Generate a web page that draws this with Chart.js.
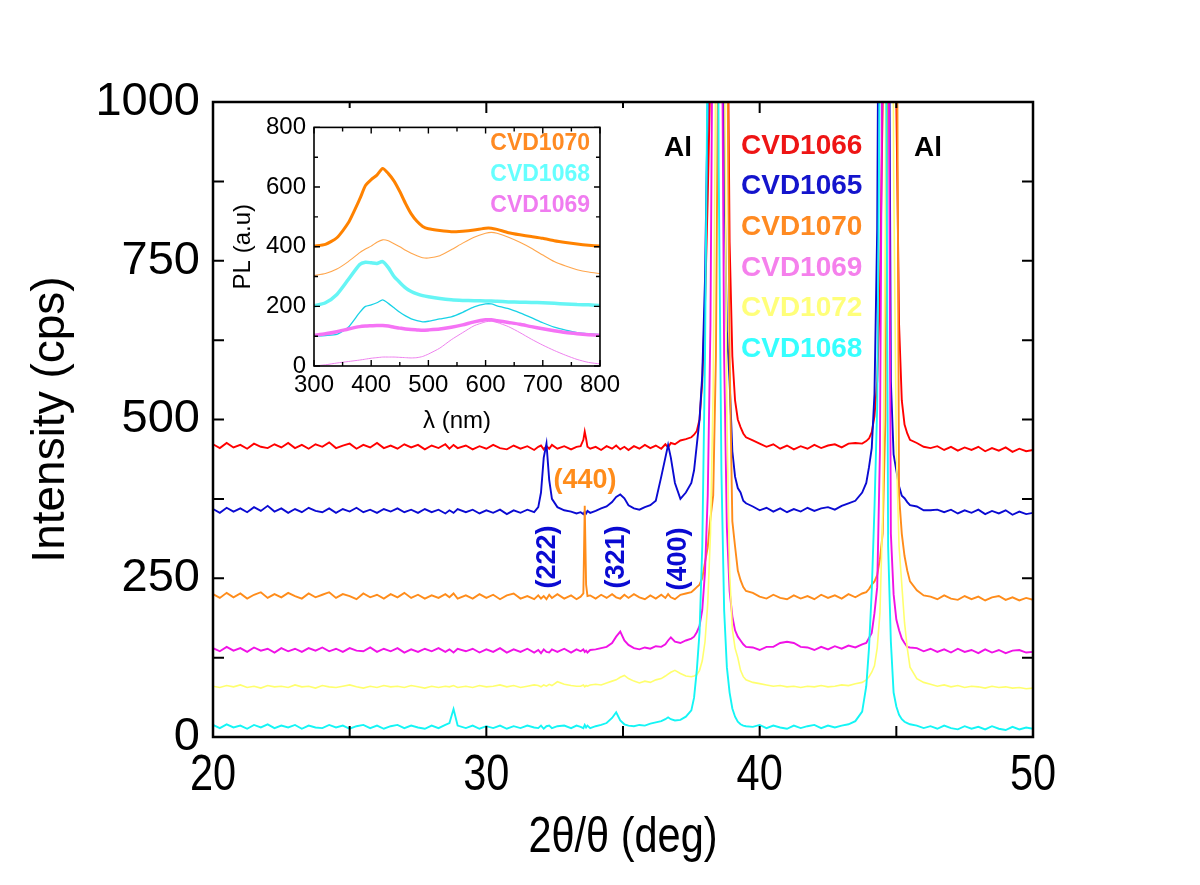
<!DOCTYPE html>
<html>
<head>
<meta charset="utf-8">
<script src="https://cdn.jsdelivr.net/npm/chart.js@4.4.1/dist/chart.umd.min.js"></script>
<style>
  body { margin: 0; background: #fff; }
  #wrap { position: relative; width: 1200px; height: 885px; }
  #xrd { position: absolute; left: 0; top: 0; }
  #pl { position: absolute; left: 225px; top: 105px; }
</style>
</head>
<body>
<div id="wrap">
  <canvas id="xrd" width="1200" height="885"></canvas>
  <canvas id="pl" width="400" height="335"></canvas>
</div>
<script>
// ---------------- XRD scans (2theta in deg, intensity in cps, offset as plotted) ----------------
const twoTheta = [
  20, 20.25, 20.5, 20.75, 21, 21.25, 21.5, 21.75, 22, 22.25, 22.5, 22.75, 23, 23.25, 23.5, 23.75, 24, 24.25,
  24.5, 24.75, 25, 25.25, 25.5, 25.75, 26, 26.25, 26.5, 26.75, 27, 27.25, 27.5, 27.75, 28, 28.25, 28.5,
  28.65, 28.8, 28.95,
  29.25, 29.5, 29.75, 30, 30.25, 30.5, 30.75, 31, 31.25, 31.5, 31.75,
  31.9, 32, 32.1, 32.2, 32.3, 32.4,
  32.6, 32.85, 33.1, 33.3,
  33.45, 33.55, 33.6, 33.65, 33.7, 33.8,
  34, 34.2, 34.4, 34.6, 34.75, 34.9, 35.05, 35.2, 35.4, 35.6, 35.8, 36, 36.2, 36.4, 36.55, 36.65, 36.75, 36.9, 37.1, 37.3,
  37.5, 37.6, 37.7, 37.8, 37.9, 38, 38.1, 38.2, 38.3, 38.4, 38.5, 38.6, 38.7, 38.8, 38.9, 39, 39.1, 39.2, 39.3, 39.4, 39.5,
  39.75, 40, 40.25, 40.5, 40.75, 41, 41.25, 41.5, 41.75, 42, 42.25, 42.5, 42.75, 43, 43.25, 43.5, 43.75,
  43.9, 44, 44.1, 44.2, 44.3, 44.4, 44.5, 44.6, 44.7, 44.8, 44.9, 45, 45.1, 45.2, 45.3, 45.4, 45.5,
  45.75, 46, 46.25, 46.5, 46.75, 47, 47.25, 47.5, 47.75, 48, 48.25, 48.5, 48.75, 49, 49.25, 49.5, 49.75, 50
];

const cvd1066 = [
  461, 455, 463, 456, 460, 454, 462, 457, 455, 461, 456, 463, 455, 460, 454, 461, 457, 464,
  455, 459, 462, 454, 460, 456, 463, 455, 459, 454, 461, 456, 460, 453, 459, 455, 461,
  454, 460, 455,
  459, 453, 458, 454, 460, 455, 453, 459, 454, 458, 452,
  457, 459, 453, 458, 454, 460,
  454, 458, 453, 457,
  458, 468, 481, 470, 457, 454,
  457, 452, 458, 454, 459, 453, 457, 452, 458, 454, 460, 455, 459, 454, 461, 456, 463, 461, 467, 469,
  472, 476, 482, 500, 560, 680, 850, 1050, 1400, 2800, 3500, 3500, 2600, 1300, 780, 600, 530, 500, 488, 478, 472,
  467, 462, 457, 461, 454, 459, 453, 458, 454, 460, 455, 459, 461, 456, 462, 463, 462,
  466, 470, 480, 505, 560, 700, 1000, 1800, 3500, 3500, 2200, 1000, 650, 530, 492, 478, 468,
  463, 457, 455, 458, 452, 457, 451, 456, 452, 457, 450, 455, 451, 456, 449, 454, 450, 452
];

const cvd1065 = [
  359, 353, 361, 355, 360, 354, 362, 356, 364, 355, 360, 353, 359, 354, 361, 356, 354, 360,
  353, 359, 355, 361, 354, 358, 353, 359, 355, 360, 354, 358, 353, 359, 354, 358, 352,
  357, 353, 359,
  354, 358, 352, 357, 353, 358, 351, 357, 353, 358, 354,
  362, 385, 440, 462, 405, 375,
  362, 357, 355, 352,
  354, 351, 355, 352, 356, 353,
  356, 360, 363, 370, 378, 382, 376, 365, 360, 358, 362, 365, 372, 410, 440, 460, 440, 400, 375, 385,
  400, 420, 460, 500, 570, 720, 1000, 1800, 3000, 3500, 3000, 1600, 900, 640, 560, 450, 410, 392, 385, 372, 368,
  363, 357, 361, 355, 360, 354, 359, 355, 361, 356, 360, 362, 358, 364, 368, 372, 385,
  400, 425, 455, 540, 800, 1600, 3500, 3200, 1500, 560, 445, 420, 395, 380, 376, 370, 365,
  363, 357, 357, 358, 354, 358, 352, 357, 353, 358, 351, 356, 352, 357, 350, 355, 351, 353
];

const cvd1070 = [
  225, 219, 227, 220, 226, 218, 224, 228, 219, 225, 220, 227, 222, 218, 226, 220, 224, 228,
  219, 225, 222, 217, 226, 220, 224, 218, 225, 220, 227, 219, 224, 218, 223, 219, 225,
  220, 226, 218,
  223, 218, 225, 219, 224, 217, 223, 226, 218, 222, 217,
  223, 218, 222, 217, 224, 219,
  225, 218, 223, 217,
  221, 226, 364, 240, 222, 223,
  218, 224, 219, 225, 220, 218, 224, 219, 225, 220, 217, 223, 218, 224, 219, 225, 220, 217, 224, 226,
  228, 232, 236, 240, 250, 275, 299, 345, 380, 600, 1200, 3000, 3000, 1200, 600, 340, 300, 262, 247, 236, 230,
  227, 221, 218, 224, 219, 217, 223, 218, 222, 217, 224, 219, 223, 218, 225, 220, 226,
  228, 233, 240, 245, 255, 280, 320, 500, 1200, 3000, 3000, 1400, 380, 320, 285, 262, 245,
  231, 223, 221, 217, 223, 218, 216, 222, 217, 221, 215, 220, 222, 216, 220, 215, 219, 216
];

const cvd1069 = [
  140, 135, 142, 136, 140, 134, 141, 136, 139, 133, 140, 135, 139, 134, 140, 136, 141, 135,
  139, 134, 140, 136, 135, 141, 134, 139, 135, 140, 133, 138, 134, 139, 135, 140, 134,
  138, 133, 139,
  135, 139, 133, 138, 134, 140, 133, 138, 134, 139, 133,
  137, 132, 138, 134, 133, 138,
  134, 139, 133, 138,
  135, 138, 134, 136, 133, 137,
  138, 140, 142, 148, 158, 166, 152, 145, 140, 138, 141, 139, 143, 142, 146, 152, 157, 150, 148, 152,
  155, 158, 165, 175, 200, 260, 380, 650, 1300, 3000, 3000, 1300, 600, 330, 230, 190, 168, 158, 152, 146, 142,
  141, 137, 142, 142, 148, 150, 148, 142, 141, 137, 142, 138, 143, 139, 144, 141, 146,
  148, 156, 164, 195, 236, 450, 1200, 3000, 1300, 320, 225, 185, 168, 155, 148, 142, 141,
  140, 135, 139, 134, 138, 133, 139, 134, 137, 132, 138, 133, 137, 132, 136, 137, 133, 134
];

const cvd1072 = [
  80, 78, 81, 79, 82, 78, 80, 77, 81, 79, 80, 78, 82, 79, 80, 77, 81, 79,
  78, 80, 82, 79, 77, 80, 78, 81, 79, 80, 78, 81, 79, 77, 80, 78, 80,
  79, 81, 78,
  80, 78, 81, 79, 80, 82, 79, 81, 78, 80, 82,
  81, 79, 82, 80, 83, 81,
  87, 83, 81, 80,
  80, 82, 79, 81, 80, 82,
  83, 82, 85, 88, 90, 94, 97, 92, 88, 85, 88, 86, 90, 92, 96, 99, 102, 105, 100, 96,
  95, 96, 98, 105, 120, 150, 210, 320, 550, 1100, 3000, 3000, 1200, 500, 260, 170, 140, 125, 105, 95, 90,
  86, 84, 82, 80, 81, 79, 80, 78, 80, 79, 81, 79, 80, 82, 81, 84, 86,
  90, 95, 102, 112, 140, 195, 350, 800, 2500, 2500, 900, 450, 300, 240, 180, 140, 110,
  92, 86, 83, 80, 82, 79, 81, 78, 80, 79, 77, 80, 78, 79, 77, 78, 76, 77
];

const cvd1068 = [
  19, 14, 20, 15, 18, 13, 19, 15, 20, 14, 18, 15, 19, 13, 18, 15, 14, 19,
  15, 18, 13, 17, 19, 14, 18, 13, 17, 19, 14, 18, 15, 13, 18, 14, 19,
  22, 44, 18,
  14, 18, 13, 17, 14, 18, 13, 17, 14, 18, 15,
  14, 18, 13, 17, 18, 14,
  17, 18, 14, 18,
  16, 14, 19, 15, 18, 14,
  17, 19, 22, 30, 39, 26, 20, 18, 17, 19, 18, 21, 23, 25, 28, 31, 28, 26, 27, 32,
  42, 62, 105, 165, 300, 600, 1100, 2500, 3500, 2200, 900, 420, 200, 110, 70, 45, 32, 24, 20, 18, 17,
  16, 19, 14, 18, 15, 13, 18, 14, 17, 19, 14, 18, 15, 18, 20, 25, 40,
  80, 140, 230, 360, 520, 1100, 3000, 1400, 300, 150, 70, 48, 35, 28, 24, 22, 20,
  18, 14, 17, 13, 18, 14, 12, 17, 13, 16, 12, 17, 13, 11, 16, 12, 15, 13
];

const xrdNames = ['CVD1066', 'CVD1065', 'CVD1070', 'CVD1069', 'CVD1072', 'CVD1068'];
const xTickMinor = [25, 35, 45];
const yTickMinor = [125, 375, 625, 875];

// ---------------- PL inset (wavelength in nm, PL in a.u.) ----------------
const wavelength = [300, 320, 340, 360, 380, 390, 400, 410, 420, 430, 440, 450, 460, 470, 480, 490, 500,
  520, 540, 560, 580, 600, 610, 620, 640, 660, 680, 700, 720, 740, 760, 780, 800];
const pl1070a = [402, 408, 430, 480, 560, 605, 625, 640, 662, 645, 620, 585, 545, 510, 485, 468, 460,
  454, 450, 452, 456, 462, 462, 458, 447, 440, 434, 428, 420, 414, 409, 405, 402];
const pl1070b = [303, 310, 325, 350, 380, 392, 402, 415, 423, 420, 410, 400, 388, 378, 370, 363, 362,
  370, 390, 412, 432, 445, 448, 445, 432, 415, 395, 372, 350, 335, 323, 315, 310];
const pl1068a = [201, 212, 240, 290, 340, 348, 346, 344, 350, 330, 300, 280, 262, 250, 242, 236, 232,
  226, 222, 220, 219, 218, 218, 217, 215, 214, 213, 212, 210, 208, 206, 205, 203];
const pl1068b = [100, 102, 106, 130, 180, 200, 205, 212, 222, 210, 195, 180, 168, 158, 152, 148, 150,
  158, 165, 180, 198, 208, 208, 202, 192, 178, 162, 145, 130, 120, 112, 108, 105];
const pl1069a = [103, 108, 115, 124, 132, 134, 135, 136, 136, 134, 130, 127, 124, 122, 121, 120, 121,
  124, 130, 138, 148, 155, 155, 152, 146, 140, 132, 125, 118, 112, 108, 105, 103];
const pl1069b = [0, 4, 10, 15, 20, 23, 26, 28, 30, 30, 30, 29, 28, 27, 28, 32, 40,
  60, 88, 112, 135, 148, 150, 146, 132, 112, 90, 70, 52, 36, 22, 12, 7];
const plNames = ['CVD1070', 'CVD1068', 'CVD1069'];
const plXMinor = [350, 450, 550, 650, 750];
const plYMinor = [100, 300, 500, 700];

// ---------------- styles ----------------
const SANS = "'Liberation Sans', Arial, sans-serif";
const NARROW_SCALE = 0.83; // the original uses a narrow face for the x axis texts
const lineColors = {
  CVD1066: '#ff0000', CVD1065: '#0a0ad2', CVD1070: '#ff8c1a',
  CVD1069: '#f012e6', CVD1072: '#ffff6e', CVD1068: '#14f5f5'
};
const labelColors = {
  CVD1066: '#ee1515', CVD1065: '#1414cc', CVD1070: '#ff8a22',
  CVD1069: '#f580ec', CVD1072: '#ffff7a', CVD1068: '#36ffff'
};

const toPoints = (xs, ys) => xs.map((x, i) => ({ x: x, y: ys[i] }));

const xrdValues = { CVD1066: cvd1066, CVD1065: cvd1065, CVD1070: cvd1070, CVD1069: cvd1069, CVD1072: cvd1072, CVD1068: cvd1068 };
// first dataset is drawn on top
const drawOrder = ['CVD1068', 'CVD1072', 'CVD1069', 'CVD1070', 'CVD1065', 'CVD1066'];

function drawTicks(ctx, a, xs, ys, xMajor, xMinor, yMajor, yMinor, lenMajor, lenMinor, topMinor) {
  ctx.beginPath();
  xMajor.concat(xMinor).forEach(v => {
    const px = xs.getPixelForValue(v);
    const isMajor = xMajor.includes(v);
    const len = isMajor ? lenMajor : lenMinor;
    ctx.moveTo(px, a.bottom); ctx.lineTo(px, a.bottom - len);
    ctx.moveTo(px, a.top); ctx.lineTo(px, a.top + (isMajor ? lenMajor : topMinor));
  });
  yMajor.concat(yMinor).forEach(v => {
    const py = ys.getPixelForValue(v);
    const len = yMajor.includes(v) ? lenMajor : lenMinor;
    ctx.moveTo(a.left, py); ctx.lineTo(a.left + len, py);
    ctx.moveTo(a.right, py); ctx.lineTo(a.right - len, py);
  });
  ctx.stroke();
}

function narrowText(ctx, text, cx, cy) {
  ctx.save();
  ctx.translate(cx, cy);
  ctx.scale(NARROW_SCALE, 1);
  ctx.fillText(text, 0, 0);
  ctx.restore();
}

const xrdDecor = {
  id: 'xrdDecor',
  afterDraw(chart) {
    const { ctx, chartArea: a, scales: { x, y } } = chart;
    ctx.save();
    ctx.strokeStyle = '#000';
    ctx.lineWidth = 2.5;
    ctx.strokeRect(a.left, a.top, a.right - a.left, a.bottom - a.top);
    ctx.lineWidth = 2;
    drawTicks(ctx, a, x, y, x.ticks.map(t => t.value), xTickMinor, y.ticks.map(t => t.value), yTickMinor, 11, 11, 6);

    // x axis labels and title in a narrow face
    ctx.fillStyle = '#000';
    ctx.textAlign = 'center';
    ctx.textBaseline = 'middle';
    ctx.font = '50px ' + SANS;
    x.ticks.forEach(t => narrowText(ctx, String(t.value), x.getPixelForValue(t.value), a.bottom + 39));
    narrowText(ctx, '2θ/θ (deg)', (a.left + a.right) / 2, 838);

    // Al labels
    ctx.font = 'bold 28px ' + SANS;
    ctx.fillText('Al', 678, 148);
    ctx.fillText('Al', 928, 148);

    // sample legend
    ctx.textAlign = 'left';
    xrdNames.forEach((n, i) => {
      ctx.fillStyle = labelColors[n];
      ctx.fillText(n, 741, 146 + i * 40.6);
    });

    // reflections
    ctx.font = 'bold 27px ' + SANS;
    ctx.textAlign = 'center';
    ctx.fillStyle = lineColors.CVD1070;
    ctx.fillText('(440)', 585, 481);
    ctx.fillStyle = '#0a0ad2';
    [['(222)', 548, 557], ['(321)', 617, 557], ['(400)', 679, 559]].forEach(([t, cx, cy]) => {
      ctx.save();
      ctx.translate(cx, cy);
      ctx.rotate(-Math.PI / 2);
      ctx.fillText(t, 0, 0);
      ctx.restore();
    });
    ctx.restore();
  }
};

new Chart(document.getElementById('xrd'), {
  type: 'line',
  data: {
    datasets: drawOrder.map(n => ({
      label: n,
      data: toPoints(twoTheta, xrdValues[n]),
      borderColor: lineColors[n],
      borderWidth: n === 'CVD1072' ? 1.6 : 1.9,
      pointRadius: 0,
      tension: 0,
      fill: false
    }))
  },
  options: {
    responsive: false,
    animation: false,
    devicePixelRatio: 1,
    layout: { padding: { left: 0, top: 102, right: 167, bottom: 0 } },
    plugins: { legend: { display: false }, tooltip: { enabled: false } },
    scales: {
      x: {
        type: 'linear', min: 20, max: 50,
        ticks: { display: false, stepSize: 10 },
        grid: { display: false, drawTicks: false },
        border: { display: false },
        afterFit: s => { s.height = 148; }
      },
      y: {
        type: 'linear', min: 0, max: 1000,
        ticks: { stepSize: 250, padding: 13, color: '#000', font: { family: SANS, size: 47 }, callback: v => String(v) },
        grid: { display: false, drawTicks: false },
        border: { display: false },
        title: { display: true, text: 'Intensity (cps)', color: '#000', font: { family: SANS, size: 46 }, padding: { top: 24, bottom: 0 } },
        afterFit: s => { s.width = 213; }
      }
    }
  },
  plugins: [xrdDecor]
});

// ---------------- inset ----------------
const plDecor = {
  id: 'plDecor',
  afterDraw(chart) {
    const { ctx, chartArea: a, scales: { x, y } } = chart;
    ctx.save();
    ctx.strokeStyle = '#000';
    ctx.lineWidth = 1.6;
    ctx.strokeRect(a.left, a.top, a.right - a.left, a.bottom - a.top);
    ctx.lineWidth = 1.4;
    drawTicks(ctx, a, x, y, x.ticks.map(t => t.value), plXMinor, y.ticks.map(t => t.value), plYMinor, 6, 4, 4);
    ctx.font = 'bold 23px ' + SANS;
    ctx.textAlign = 'right';
    ctx.textBaseline = 'middle';
    const cols = ['#ff8a22', '#66ffff', '#f07cf0'];
    plNames.forEach((n, i) => {
      ctx.fillStyle = cols[i];
      ctx.fillText(n, 365, 39 + i * 31);
    });
    ctx.restore();
  }
};

const plSeries = [
  { d: pl1070a, c: '#ff8200', w: 3 },
  { d: pl1068a, c: '#66f5f5', w: 3.5 },
  { d: pl1069a, c: '#f573f5', w: 3.5 },
  { d: pl1070b, c: '#ffa64d', w: 1.1 },
  { d: pl1068b, c: '#18d2e6', w: 1.3 },
  { d: pl1069b, c: '#ee82ee', w: 1 }
];

new Chart(document.getElementById('pl'), {
  type: 'line',
  data: {
    datasets: plSeries.map(s => ({
      data: toPoints(wavelength, s.d),
      borderColor: s.c,
      borderWidth: s.w,
      pointRadius: 0,
      tension: 0.2,
      fill: false
    }))
  },
  options: {
    responsive: false,
    animation: false,
    devicePixelRatio: 1,
    layout: { padding: { left: 0, top: 14, right: 13, bottom: 0 } },
    plugins: { legend: { display: false }, tooltip: { enabled: false } },
    scales: {
      x: {
        type: 'linear', min: 300, max: 800,
        ticks: { stepSize: 100, padding: 5, maxRotation: 0, color: '#000', font: { family: SANS, size: 24 } },
        grid: { display: false, drawTicks: false },
        border: { display: false },
        title: { display: true, text: 'λ (nm)', color: '#000', font: { family: SANS, size: 24 }, padding: { top: 0, bottom: 4 } },
        afterFit: s => { s.height = 74; }
      },
      y: {
        type: 'linear', min: 0, max: 800,
        ticks: { stepSize: 200, padding: 8, color: '#000', font: { family: SANS, size: 24 } },
        grid: { display: false, drawTicks: false },
        border: { display: false },
        title: { display: true, text: 'PL (a.u)', color: '#000', font: { family: SANS, size: 24 }, padding: { top: 4, bottom: 0 } },
        afterFit: s => { s.width = 89; }
      }
    }
  },
  plugins: [plDecor]
});
</script>
</body>
</html>
